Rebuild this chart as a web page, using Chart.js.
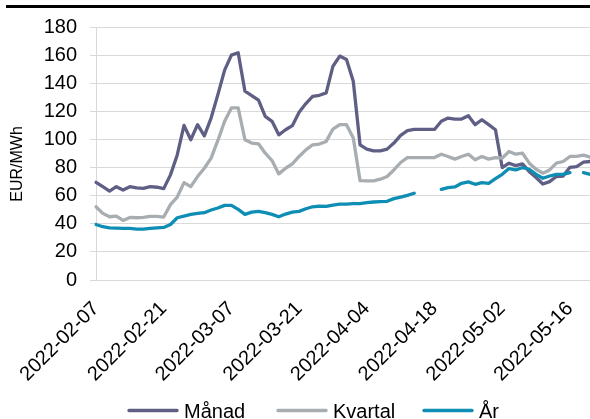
<!DOCTYPE html>
<html><head><meta charset="utf-8">
<style>
html,body{margin:0;padding:0;overflow:hidden;background:#fff;width:590px;height:419px}
#wrap{position:relative;width:600px;height:419px}
</style>
<script src="https://cdn.jsdelivr.net/npm/chart.js@4/dist/chart.umd.min.js"></script>
</head><body>
<div id="wrap"><canvas id="c" width="600" height="419" style="width:600px;height:419px"></canvas></div>
<script>
const dates = [
'2022-02-07','2022-02-08','2022-02-09','2022-02-10','2022-02-11',
'2022-02-14','2022-02-15','2022-02-16','2022-02-17','2022-02-18',
'2022-02-21','2022-02-22','2022-02-23','2022-02-24','2022-02-25',
'2022-02-28','2022-03-01','2022-03-02','2022-03-03','2022-03-04',
'2022-03-07','2022-03-08','2022-03-09','2022-03-10','2022-03-11',
'2022-03-14','2022-03-15','2022-03-16','2022-03-17','2022-03-18',
'2022-03-21','2022-03-22','2022-03-23','2022-03-24','2022-03-25',
'2022-03-28','2022-03-29','2022-03-30','2022-03-31','2022-04-01',
'2022-04-04','2022-04-05','2022-04-06','2022-04-07','2022-04-08',
'2022-04-11','2022-04-12','2022-04-13','2022-04-14','2022-04-15',
'2022-04-18','2022-04-19','2022-04-20','2022-04-21','2022-04-22',
'2022-04-25','2022-04-26','2022-04-27','2022-04-28','2022-04-29',
'2022-05-02','2022-05-03','2022-05-04','2022-05-05','2022-05-06',
'2022-05-09','2022-05-10','2022-05-11','2022-05-12','2022-05-13',
'2022-05-16','2022-05-17','2022-05-18','2022-05-19','2022-05-20'
];
const tickLabels = ['2022-02-07','2022-02-21','2022-03-07','2022-03-21','2022-04-04','2022-04-18','2022-05-02','2022-05-16'];
const manad = [
69.5,66.4,63.3,66.4,64.0,
66.4,65.5,65.2,66.4,66.0,
65.0,74.8,89.0,110.0,99.8,
110.5,102.6,115.2,131.9,149.3,
160.0,161.7,134.3,131.2,127.9,
116.4,112.9,103.3,106.9,109.8,
119.3,125.5,130.7,131.4,133.1,
152.1,159.3,156.9,141.4,96.2,
93.1,91.9,91.9,93.1,97.4,
102.9,106.2,107.1,107.1,107.1,
107.1,112.9,115.2,114.5,114.5,
116.9,110.5,114.0,110.5,106.9,
80.0,83.1,81.4,82.6,77.1,
72.9,68.3,70.0,73.6,74.0,
80.2,80.7,83.8,84.3,85.0
];
const kvartal = [
52.1,47.4,45.0,45.5,42.4,
44.5,44.3,44.5,45.2,45.2,
44.8,53.6,59.0,69.3,66.4,
73.6,79.5,86.7,99.3,112.9,
122.4,122.4,99.8,97.4,96.9,
90.2,85.0,75.5,79.5,82.6,
87.9,92.6,96.2,96.7,98.6,
107.4,110.5,110.5,101.0,70.7,
70.5,70.5,71.7,73.6,78.3,
83.6,87.1,87.1,87.1,87.1,
87.1,89.5,87.9,86.0,87.9,
89.5,85.5,87.9,86.0,87.1,
86.7,91.4,89.5,90.2,83.1,
78.8,76.0,78.3,83.1,84.3,
87.9,87.9,88.8,87.4,87.0
];
const ar = [
39.5,37.9,37.1,36.9,36.7,
36.7,36.2,36.2,36.7,37.1,
37.4,39.5,44.3,45.5,46.7,
47.4,47.9,49.8,51.2,53.1,
53.1,50.2,46.7,48.3,48.8,
47.9,46.7,45.0,46.9,48.3,
48.8,50.7,52.1,52.6,52.4,
53.3,54.0,54.0,54.3,54.3,
55.0,55.5,55.7,56.0,57.9,
59.0,60.2,61.7,null,null,
null,64.5,65.7,66.2,68.8,
69.8,68.1,69.3,68.8,72.1,
75.2,79.3,78.3,80.0,78.8,
75.2,72.4,74.0,75.2,75.2,
76.4,null,76.4,75.2,75.0
];
const seriesNames = ['Månad','Kvartal','År'];
const seriesColors = ['#5f5f86','#a7adb0','#0e8db5'];
const yTitle = 'EUR/MWh';

const FONT = 'Liberation Sans';

const decor = {
  id: 'decor',
  afterDraw(chart) {
    const ctx = chart.ctx;
    ctx.save();
    ctx.fillStyle = '#000';
    ctx.fillRect(6, 5, 600, 3);
    // y axis title
    ctx.save();
    ctx.translate(18, 164);
    ctx.rotate(-Math.PI / 2);
    ctx.font = '16px "' + FONT + '"';
    ctx.textAlign = 'center';
    ctx.textBaseline = 'middle';
    ctx.fillStyle = '#000';
    ctx.fillText(yTitle, 0, 0);
    ctx.restore();
    // legend
    const pos = [128, 277, 423];
    ctx.font = '20px "' + FONT + '"';
    ctx.textBaseline = 'alphabetic';
    ctx.textAlign = 'left';
    chart.data.datasets.forEach((ds, k) => {
      const x = pos[k];
      ctx.strokeStyle = ds.borderColor;
      ctx.lineWidth = 3.3;
      ctx.lineCap = 'round';
      ctx.beginPath(); ctx.moveTo(x + 1, 410.5); ctx.lineTo(x + 49, 410.5); ctx.stroke();
      ctx.fillStyle = '#000';
      ctx.fillText(ds.label, x + 56, 418);
    });
    ctx.restore();
  }
};

const mk = (label, data, color, order) => ({
  label, data, borderColor: color, backgroundColor: color,
  borderWidth: 3.3, pointRadius: 0, tension: 0, spanGaps: false,
  borderCapStyle: 'round', borderJoinStyle: 'round', order, fill: false
});

new Chart(document.getElementById('c'), {
  type: 'line',
  data: {
    labels: dates,
    datasets: [
      mk(seriesNames[0], manad, seriesColors[0], 3),
      mk(seriesNames[1], kvartal, seriesColors[1], 2),
      mk(seriesNames[2], ar, seriesColors[2], 1)
    ]
  },
  options: {
    responsive: false, animation: false, devicePixelRatio: 1,
    layout: { padding: { top: 27, right: 3, left: 0, bottom: 0 } },
    plugins: { legend: { display: false }, tooltip: { enabled: false } },
    scales: {
      x: {
        type: 'category', offset: false,
        grid: { display: false, drawTicks: false },
        border: { display: true, color: '#d9d9d9' },
        ticks: {
          autoSkip: false, maxRotation: 45, minRotation: 45, color: '#000', padding: 17, labelOffset: 0,
          font: { family: FONT, size: 20 },
          callback(v) { const l = this.getLabelForValue(v); return tickLabels.includes(l) ? l : ''; }
        },
        afterFit(s) { s.height = 139; s.paddingLeft = 0; s.paddingRight = 0; }
      },
      y: {
        min: 0, max: 180,
        ticks: { stepSize: 20, color: '#000', padding: 13, font: { family: FONT, size: 20 } },
        grid: { color: '#d9d9d9', tickLength: 6, lineWidth: 1 },
        border: { color: '#d9d9d9' },
        afterFit(s) { s.width = 96; }
      }
    }
  },
  plugins: [decor]
});
</script>
</body></html>
